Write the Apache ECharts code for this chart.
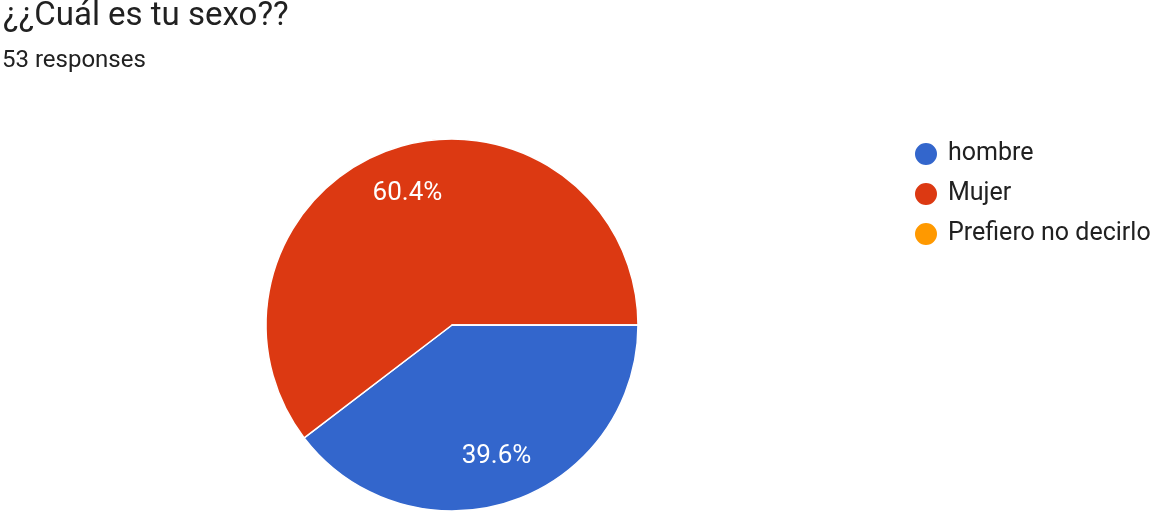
<!DOCTYPE html>
<html><head><meta charset="utf-8">
<script src="https://cdn.jsdelivr.net/npm/echarts@6/dist/echarts.min.js"></script>
<style>html,body{margin:0;padding:0;background:#fff}#c{width:1152px;height:521px}</style>
</head><body><div id="c"></div>
<script>
const categories = ['hombre', 'Mujer', 'Prefiero no decirlo'];
const values = [21, 32, 0];
const colors = ['#3366cc', '#dc3912', '#ff9900'];
const titleText = '¿¿Cuál es tu sexo??';
const subText = '53 responses';

const chart = echarts.init(document.getElementById('c'));
const data = categories.map((n, i) => ({ name: n, value: values[i], itemStyle: { color: colors[i] } }));
const total = values.reduce((a, b) => a + b, 0);
chart.setOption({
  animation: false,
  title: [{
    text: titleText, left: 3, top: 0, padding: 0,
    textStyle: { fontFamily: 'Roboto', fontSize: 33, fontWeight: 'normal', color: '#212121' }
  }, {
    text: subText, left: 2, top: 49, padding: 0,
    textStyle: { fontFamily: 'Roboto', fontSize: 24, fontWeight: 'normal', color: '#212121' }
  }],
  legend: {
    orient: 'vertical', left: 913, top: 141, itemGap: 14, icon: 'circle', padding: 0,
    itemWidth: 24, itemHeight: 24,
    textStyle: { fontFamily: 'Roboto', fontSize: 25, color: '#212121', padding: [0, 0, 0, 5] },
    data: categories
  },
  series: [{
    type: 'pie', center: [452, 325], radius: [0, 186], startAngle: 0, clockwise: true,
    label: { show: false }, labelLine: { show: false },
    itemStyle: { borderColor: '#fff', borderWidth: 1.5 },
    emphasis: { disabled: true },
    data: data
  }, {
    type: 'pie', center: [452, 325], radius: [86, 186], startAngle: 0, clockwise: true,
    silent: true, legendHoverLink: false,
    itemStyle: { color: 'rgba(0,0,0,0)' },
    label: {
      show: true, position: 'inside', fontFamily: 'Roboto', fontSize: 26, color: '#fff',
      formatter: p => p.value > 0 ? (p.value / total * 100).toFixed(1) + '%' : ''
    },
    labelLine: { show: false },
    data: categories.map((n, i) => ({ name: n + ' ', value: values[i] }))
  }]
});
</script></body></html>
